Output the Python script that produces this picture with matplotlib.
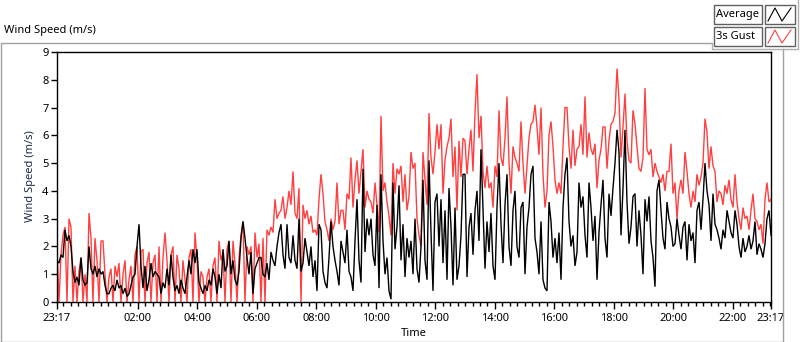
import numpy as np
import matplotlib
matplotlib.use("Agg")
import matplotlib.pyplot as plt
from matplotlib.patches import Rectangle
from matplotlib.lines import Line2D

plt.rcParams['font.family'] = ['Noto Sans', 'DejaVu Sans']

# ---------------- data ----------------
start_hour = 23
start_minute = 17
span_hours = 24
major_tick_labels = ["02:00", "04:00", "06:00", "08:00", "10:00", "12:00",
                     "14:00", "16:00", "18:00", "20:00", "22:00"]
series_names = ["Average", "3s Gust"]

average = [
    # 23:17 - ~02:40
    1.5, 1.4, 1.7, 1.6, 2.6, 2.2, 2.4, 2.0, 1.1, 0.7, 0.9, 0.6, 1.6, 0.8, 0.6, 0.7, 2.0,
    1.2, 1.0, 1.3, 0.9, 1.2, 1.0, 1.1, 0.6, 0.3, 0.3, 0.5, 0.6, 0.4, 0.8, 0.5, 0.6, 0.3,
    0.5, 0.2, 0.3, 0.6, 0.9, 1.0, 2.0, 2.8, 1.3, 0.5, 1.3, 0.4, 0.8, 1.4, 0.9, 1.1, 1.0,
    # ~02:40 - ~06:05
    0.9, 0.3, 0.7, 0.5, 1.2, 0.6, 1.7, 0.9, 0.4, 0.6, 0.3, 0.8, 0.5, 0.3, 0.9, 1.5, 1.0,
    1.9, 1.4, 1.9, 0.7, 0.5, 0.3, 0.6, 0.4, 0.8, 0.6, 1.2, 0.9, 0.3, 1.0, 0.5, 1.9, 1.1,
    1.3, 2.2, 1.0, 1.5, 0.8, 0.6, 1.1, 2.3, 2.9, 2.3, 1.6, 1.0, 1.8, 0.3, 1.2, 1.4, 1.6,
    # ~06:05 - ~09:30
    1.6, 1.0, 0.9, 1.4, 0.8, 1.8, 1.5, 1.3, 2.0, 2.5, 2.8, 1.7, 1.2, 2.8, 1.6, 1.4, 2.4,
    1.5, 1.2, 3.0, 1.1, 1.4, 2.3, 1.8, 1.3, 2.0, 0.9, 1.5, 0.4, 2.8, 2.6, 1.1, 0.7, 0.5,
    1.6, 2.9, 2.0, 1.5, 1.1, 0.6, 2.2, 1.8, 1.4, 2.6, 1.1, 0.9, 0.4, 2.2, 3.7, 1.5, 0.7,
    # ~09:30 - ~12:55
    4.8, 1.8, 3.0, 2.4, 3.0, 1.7, 1.3, 3.5, 0.5, 4.6, 2.2, 1.0, 1.6, 0.4, 0.1, 4.3, 1.9,
    2.7, 4.2, 1.5, 2.8, 0.9, 2.3, 1.6, 2.2, 1.0, 3.0, 1.2, 0.7, 2.0, 4.4, 1.5, 0.8, 5.1,
    2.5, 0.4, 3.6, 3.9, 2.0, 3.7, 1.4, 3.3, 0.8, 4.1, 2.7, 0.6, 3.4, 0.8, 1.3, 2.4, 4.6,
    # ~12:55 - ~16:20
    4.6, 0.9, 2.7, 3.2, 1.7, 3.3, 4.0, 2.2, 5.5, 3.3, 1.2, 2.9, 1.8, 3.2, 1.3, 0.8, 3.4,
    5.0, 2.8, 1.4, 3.5, 4.6, 2.0, 1.3, 3.3, 4.0, 2.0, 1.6, 3.4, 3.6, 1.0, 2.7, 3.4, 4.6,
    4.9, 2.3, 1.8, 1.0, 2.9, 0.8, 0.5, 0.4, 3.6, 2.9, 1.6, 2.3, 1.4, 2.5, 0.8, 3.4, 4.6,
    # ~16:20 - ~19:45
    5.2, 2.9, 2.0, 2.4, 1.3, 1.8, 4.3, 3.4, 3.8, 2.4, 1.6, 4.3, 3.4, 2.2, 3.1, 0.8, 2.5,
    3.5, 4.4, 2.3, 1.6, 3.9, 3.1, 4.1, 5.0, 6.2, 5.4, 2.4, 4.1, 6.2, 3.6, 2.1, 2.7, 3.8,
    3.9, 2.0, 3.3, 2.4, 1.0, 3.7, 2.9, 3.8, 2.2, 1.6, 0.55, 4.0, 4.4, 3.3, 2.3, 1.9, 3.6,
    # ~19:45 - 23:17
    3.0, 2.7, 2.0, 2.1, 3.0, 2.4, 1.9, 2.7, 2.9, 1.5, 2.8, 2.2, 2.5, 1.4, 3.3, 3.6, 2.6,
    3.7, 5.0, 4.0, 3.5, 2.2, 3.9, 2.8, 2.6, 2.3, 1.9, 2.6, 2.3, 3.3, 2.9, 2.5, 2.3, 3.3,
    2.8, 2.0, 1.6, 2.3, 1.8, 2.0, 2.4, 1.9, 2.2, 2.9, 1.7, 2.1, 1.9, 1.6, 2.1, 3.0, 3.3,
    2.4,
]

gust = [
    # 23:17 - ~02:40
    1.9, 0.0, 1.7, 2.4, 2.7, 0.0, 3.0, 2.7, 0.0, 1.3, 0.0, 1.1, 1.6, 0.0, 1.0, 0.0, 3.2,
    2.3, 0.0, 2.3, 1.5, 0.0, 2.2, 2.2, 1.0, 0.0, 0.9, 1.2, 0.0, 1.3, 0.9, 1.4, 0.0, 1.0,
    1.5, 0.0, 0.8, 1.3, 0.0, 1.7, 2.0, 0.0, 1.8, 1.9, 0.0, 1.4, 1.8, 0.0, 1.4, 1.7, 0.0,
    # ~02:40 - ~06:05
    2.0, 0.0, 1.6, 2.5, 1.5, 0.0, 1.7, 2.0, 0.0, 1.7, 1.2, 0.0, 1.5, 0.8, 0.0, 1.6, 1.9,
    0.0, 2.5, 1.5, 0.0, 1.1, 0.9, 0.0, 0.9, 1.2, 0.0, 1.3, 1.6, 0.0, 2.2, 1.5, 1.8, 0.0,
    1.9, 2.2, 0.0, 2.2, 1.4, 0.0, 1.6, 2.4, 2.9, 0.0, 2.0, 1.7, 2.0, 0.0, 2.5, 1.6, 2.1,
    # ~06:05 - ~09:30
    0.0, 2.3, 0.0, 2.6, 2.4, 2.7, 2.5, 3.7, 3.0, 3.2, 3.3, 3.8, 3.0, 3.4, 4.0, 3.5, 4.7,
    3.2, 3.0, 4.1, 0.0, 3.5, 3.0, 3.3, 2.8, 3.1, 2.5, 2.6, 2.4, 3.7, 4.6, 3.9, 2.9, 2.6,
    2.2, 3.0, 2.6, 2.9, 4.3, 2.8, 3.3, 3.3, 2.6, 3.9, 3.7, 5.2, 3.4, 4.4, 5.1, 3.9, 4.7,
    # ~09:30 - ~12:55
    5.5, 3.4, 4.0, 3.7, 3.6, 3.2, 4.3, 3.5, 2.5, 6.7, 4.0, 4.3, 3.6, 3.1, 2.4, 5.0, 3.9,
    4.8, 4.6, 4.9, 3.6, 4.6, 3.3, 3.8, 5.4, 4.8, 5.0, 3.0, 2.4, 2.0, 5.4, 4.4, 3.5, 6.8,
    5.2, 4.6, 5.4, 6.4, 5.5, 6.4, 3.9, 5.1, 5.6, 5.9, 6.6, 4.5, 5.6, 3.3, 5.8, 4.5, 5.9,
    # ~12:55 - ~16:20
    5.8, 4.6, 5.5, 6.2, 4.7, 6.8, 8.2, 5.9, 6.7, 4.7, 4.1, 4.9, 4.1, 4.3, 3.4, 4.9, 4.5,
    6.9, 5.2, 4.9, 5.9, 7.4, 5.0, 3.9, 5.6, 5.2, 5.0, 4.7, 6.5, 5.0, 3.9, 4.9, 5.9, 6.4,
    6.5, 7.1, 6.3, 5.3, 7.0, 4.6, 3.4, 4.0, 6.0, 6.5, 5.6, 4.4, 3.9, 4.3, 3.9, 5.6, 7.0,
    # ~16:20 - ~19:45
    7.0, 5.6, 4.8, 6.2, 4.9, 5.5, 5.6, 6.4, 5.3, 7.4, 5.2, 6.1, 5.5, 5.3, 5.7, 4.1, 5.1,
    5.5, 6.3, 6.3, 4.8, 5.8, 6.4, 6.5, 6.8, 8.4, 7.3, 5.2, 6.3, 7.5, 5.8, 5.1, 5.0, 6.9,
    6.4, 5.6, 4.8, 4.7, 5.2, 7.7, 5.5, 5.3, 5.5, 4.5, 5.0, 4.7, 4.5, 4.3, 4.6, 4.0, 4.7,
    # ~19:45 - 23:17
    4.7, 5.7, 3.9, 4.3, 3.0, 4.0, 4.4, 3.9, 5.4, 4.7, 3.9, 3.4, 4.0, 3.6, 4.6, 4.2, 4.5,
    5.0, 6.6, 6.1, 4.8, 5.6, 4.9, 4.7, 3.6, 4.0, 3.9, 3.5, 4.2, 3.9, 4.4, 3.7, 3.4, 4.6,
    3.6, 3.0, 2.6, 3.4, 3.0, 3.1, 2.6, 3.3, 3.9, 3.0, 2.9, 2.6, 2.8, 2.1, 3.7, 4.3, 3.6,
    3.7,
]

# ---------------- figure ----------------
W, H = 800, 342
fig = plt.figure(figsize=(W / 100, H / 100), dpi=100)
fig.patch.set_facecolor("white")


def fx(x):
    return x / W


def fy(y):
    return 1 - y / H


hours = np.linspace(0, span_hours, len(average))
start_h = start_hour + start_minute / 60.0

ax = fig.add_axes([fx(57), fy(302), 714 / W, 250 / H])
ax.plot(hours, gust, color="#ff4040", lw=1.0, solid_joinstyle="miter")
ax.plot(hours, average, color="black", lw=1.0, solid_joinstyle="miter")
ax.set_xlim(0, span_hours)
ax.set_ylim(0, 9)

for s in ax.spines.values():
    s.set_color("black")
    s.set_linewidth(1.0)

major_pos = [0.0] + [(26 + 2 * k) - start_h for k in range(len(major_tick_labels))] + [span_hours]
ax.set_xticks(major_pos)
ax.set_xticklabels(["%02d:%02d" % (start_hour, start_minute)] + major_tick_labels
                   + ["%02d:%02d" % (start_hour, start_minute)])
first_q = (np.ceil(start_h * 4) / 4.0) - start_h
minor_pos = np.arange(first_q, span_hours, 0.25)
ax.set_xticks(minor_pos, minor=True)
ax.set_yticks(range(0, 10))

ax.tick_params(axis="both", which="major", direction="out", length=4, width=1,
               labelsize=8, colors="black", pad=2)
ax.tick_params(axis="x", which="minor", direction="out", length=3, width=1)
ax.tick_params(axis="x", which="major", length=5, pad=3)

fig.text(fx(31), fy(176), "Wind Speed (m/s)", rotation=90, ha="center", va="center",
         fontsize=8, color="#1a2a48")
fig.text(fx(414), fy(333), "Time", ha="center", va="center", fontsize=8, color="black")
fig.text(fx(4), fy(31), "Wind Speed (m/s)", ha="left", va="center", fontsize=8,
         color="black")

# outer frame
frame = Line2D([fx(712), fx(0.5), fx(0.5), fx(783), fx(783)],
               [fy(42.5), fy(42.5), fy(341.5), fy(341.5), fy(49)],
               transform=fig.transFigure, color="#a0a0a0", lw=1.0)
fig.add_artist(frame)
legpanel = Line2D([fx(712), fx(712), fx(798), fx(798)],
                  [fy(42.5), fy(49), fy(49), fy(0)],
                  transform=fig.transFigure, color="#b0b0b0", lw=1.0)
fig.add_artist(legpanel)

# legend
rows = [(series_names[0], "black", 5), (series_names[1], "#ff4040", 27)]
for name, col, y0 in rows:
    fig.add_artist(Rectangle((fx(714), fy(y0 + 19)), 48 / W, 19 / H, transform=fig.transFigure,
                             facecolor="white", edgecolor="#606060", lw=1.0))
    fig.add_artist(Rectangle((fx(765), fy(y0 + 19)), 30 / W, 19 / H, transform=fig.transFigure,
                             facecolor="white", edgecolor="#606060", lw=1.0))
    fig.text(fx(716), fy(y0 + 9.5), name, ha="left", va="center", fontsize=8, color="black")
    zig = Line2D([fx(768), fx(775), fx(782), fx(791)],
                 [fy(y0 + 16), fy(y0 + 3), fy(y0 + 16), fy(y0 + 3)],
                 transform=fig.transFigure, color=col, lw=0.8)
    fig.add_artist(zig)

fig.savefig("out.png", dpi=100)
